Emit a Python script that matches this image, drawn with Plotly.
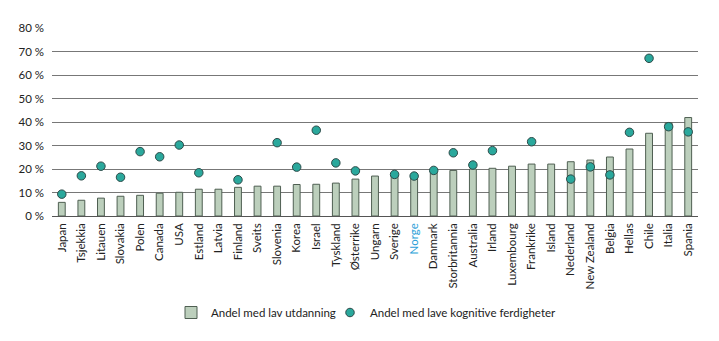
import plotly.graph_objects as go

countries = ["Japan", "Tsjekkia", "Litauen", "Slovakia", "Polen", "Canada", "USA",
             "Estland", "Latvia", "Finland", "Sveits", "Slovenia", "Korea", "Israel",
             "Tyskland", "Østerrike", "Ungarn", "Sverige", "Norge", "Danmark",
             "Storbritannia", "Australia", "Irland", "Luxembourg", "Frankrike", "Island",
             "Nederland", "New Zealand", "Belgia", "Hellas", "Chile", "Italia", "Spania"]

# Share of adults with low education (%)
low_education = [5.8, 6.7, 7.6, 8.4, 8.8, 9.7, 10.1, 11.4, 11.4, 12.2, 12.7, 12.7, 13.4,
                 13.5, 14.0, 15.7, 17.0, 17.3, 17.0, 18.4, 19.4, 20.0, 20.3, 21.2, 22.1,
                 22.1, 23.1, 23.8, 25.1, 28.5, 35.2, 39.7, 41.9]

# Share of adults with low cognitive skills (%); None where not available
low_skills = [9.3, 17.1, 21.2, 16.5, 27.4, 25.2, 30.2, 18.4, None, 15.4, None, 31.2, 20.8,
              36.5, 22.6, 19.2, None, 17.7, 17.0, 19.4, 26.9, 21.7, 27.8, None, 31.6,
              None, 15.7, 20.9, 17.5, 35.6, 67.1, 38.0, 35.8]

y_ticks = [0, 10, 20, 30, 40, 50, 60, 70, 80]
y_tick_labels = [f"{v} %" for v in y_ticks]

highlight = "Norge"
tick_text = [f"<span style='color:#2b9fd8'>{c}</span>" if c == highlight else c
             for c in countries]

font_family = "Lato, Noto Sans, sans-serif"
W, H = 719, 341

fig = go.Figure()
fig.add_trace(go.Bar(
    x=countries, y=low_education, name="Andel med lav utdanning",
    marker=dict(color="#bccfbc", line=dict(color="#4f5f52", width=1)),
    width=0.35, legend="legend",
))
fig.add_trace(go.Scatter(
    x=countries, y=low_skills, name="Andel med lave kognitive ferdigheter",
    mode="markers",
    marker=dict(color="#2aa89c", size=8.5, line=dict(color="#2d4a48", width=1)),
    legend="legend2",
))

legend_common = dict(orientation="h", xref="container", yref="container",
                     xanchor="left", yanchor="top", itemwidth=30,
                     font=dict(size=11.5, color="#222"), bgcolor="rgba(0,0,0,0)")

fig.update_layout(
    width=W, height=H,
    margin=dict(l=52, r=21, t=28, b=125),
    paper_bgcolor="white", plot_bgcolor="white",
    font=dict(family=font_family, size=11.5, color="#222"),
    showlegend=True,
    legend=dict(x=171 / W, y=1 - 298 / H, **legend_common),
    legend2=dict(x=330 / W, y=1 - 298 / H, **legend_common),
)
fig.update_xaxes(
    tickmode="array", tickvals=countries, ticktext=tick_text, tickangle=-90,
    showgrid=False, showline=False, ticks="", range=[-0.5, len(countries) - 0.5],
    tickfont=dict(size=11.5, color="#222"), automargin=False, ticklabelstandoff=4,
)
fig.update_yaxes(
    range=[0, 80], tickvals=y_ticks, ticktext=y_tick_labels,
    showgrid=True, gridcolor="#777777", gridwidth=1,
    zeroline=True, zerolinecolor="#555", zerolinewidth=1,
    ticks="", showline=False, tickfont=dict(size=11.5, color="#222"),
    automargin=False, ticklabelstandoff=7,
)

fig.write_html("out.html")
